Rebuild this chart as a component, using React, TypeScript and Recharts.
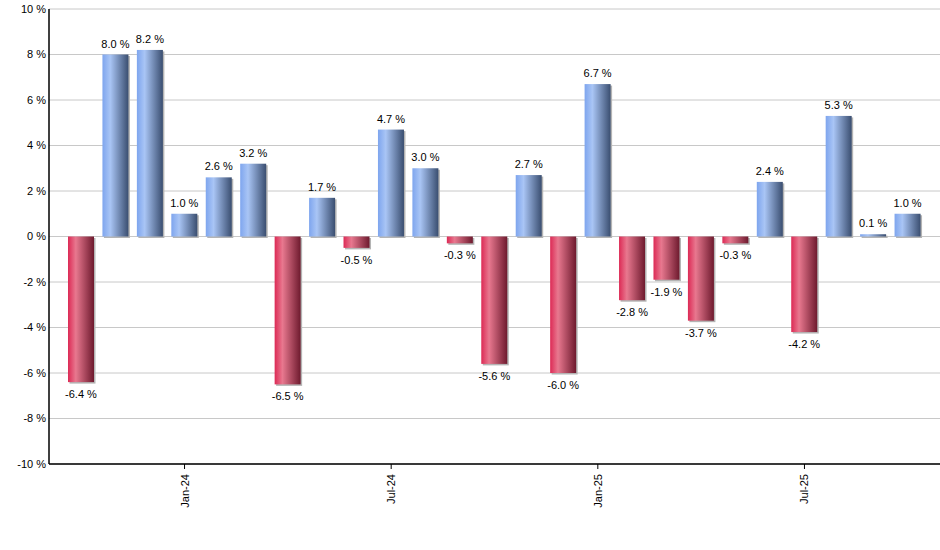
import { Bar, BarChart, CartesianGrid, Cell, LabelList, XAxis, YAxis } from "recharts";

const months = [
  "Oct-23", "Nov-23", "Dec-23", "Jan-24", "Feb-24", "Mar-24", "Apr-24", "May-24", "Jun-24",
  "Jul-24", "Aug-24", "Sep-24", "Oct-24", "Nov-24", "Dec-24", "Jan-25", "Feb-25", "Mar-25",
  "Apr-25", "May-25", "Jun-25", "Jul-25", "Aug-25", "Sep-25", "Oct-25"
];

const returns = [
  -6.4, 8.0, 8.2, 1.0, 2.6, 3.2, -6.5, 1.7, -0.5, 4.7, 3.0, -0.3, -5.6, 2.7, -6.0,
  6.7, -2.8, -1.9, -3.7, -0.3, 2.4, -4.2, 5.3, 0.1, 1.0
];

const xTicks = ["Jan-24", "Jul-24", "Jan-25", "Jul-25"];
const yTicks = [-10, -8, -6, -4, -2, 0, 2, 4, 6, 8, 10];

const rows = months.map((month, i) => ({ month, value: returns[i] }));

const font = "'Liberation Sans', Arial, sans-serif";

function BarShape(props: any) {
  const { x, y, width, height, fill } = props;
  const top = Math.min(y, y + height);
  const h = Math.abs(height);
  if (!h) return null;
  return (
    <g>
      <rect x={x + 1.5} y={top + 1.5} width={width} height={h} fill="#b4b4b4" />
      <rect x={x} y={top} width={width} height={h} fill={fill} />
    </g>
  );
}

function ValueLabel(props: any) {
  const { x, y, width, height, value } = props;
  const top = Math.min(y, y + height);
  const bottom = Math.max(y, y + height);
  const ty = value >= 0 ? top - 7 : bottom + 16;
  return (
    <text x={x + width / 2} y={ty} textAnchor="middle" fontSize={11} fontFamily={font} fill="#000">
      {`${value.toFixed(1)} %`}
    </text>
  );
}

function MonthTick(props: any) {
  const { x, y, payload } = props;
  return (
    <text
      x={x}
      y={y + 3}
      transform={`rotate(-90 ${x} ${y + 3})`}
      textAnchor="end"
      dominantBaseline="central"
      fontSize={11}
      fontFamily={font}
      fill="#000"
    >
      {payload.value}
    </text>
  );
}

export default function App() {
  return (
    <div style={{ position: "absolute", left: 0, top: 0, width: 940, height: 550, background: "#fff" }}>
      <BarChart width={940} height={550} data={rows} margin={{ top: 9, right: 0, left: 0, bottom: 0 }} barSize={26}>
        <defs>
          <linearGradient id="gradBlue" x1="0" y1="0" x2="1" y2="0">
            <stop offset="0%" stopColor="#7ea5ee" />
            <stop offset="30%" stopColor="#a9c5f5" />
            <stop offset="100%" stopColor="#3a4e70" />
          </linearGradient>
          <linearGradient id="gradRed" x1="0" y1="0" x2="1" y2="0">
            <stop offset="0%" stopColor="#dc2a55" />
            <stop offset="30%" stopColor="#e8788f" />
            <stop offset="100%" stopColor="#6e1a2e" />
          </linearGradient>
        </defs>
        <CartesianGrid stroke="#c8c8c8" vertical={false} />
        <XAxis
          dataKey="month"
          ticks={xTicks}
          interval={0}
          padding={{ left: 15, right: 15 }}
          axisLine={{ stroke: "#000", strokeWidth: 1.5 }}
          tickLine={{ stroke: "#000" }}
          tickSize={5}
          tick={<MonthTick />}
          height={86}
        />
        <YAxis
          domain={[-10, 10]}
          ticks={yTicks}
          width={49}
          axisLine={{ stroke: "#000", strokeWidth: 1.5 }}
          tickLine={false}
          tickSize={0}
          tickMargin={3}
          tick={{ fontSize: 11, fontFamily: font, fill: "#000" }}
          tickFormatter={(v: number) => `${v} %`}
        />
        <Bar dataKey="value" isAnimationActive={false} shape={<BarShape />}>
          {rows.map((r) => (
            <Cell key={r.month} fill={r.value >= 0 ? "url(#gradBlue)" : "url(#gradRed)"} />
          ))}
          <LabelList dataKey="value" content={<ValueLabel />} />
        </Bar>
      </BarChart>
    </div>
  );
}
